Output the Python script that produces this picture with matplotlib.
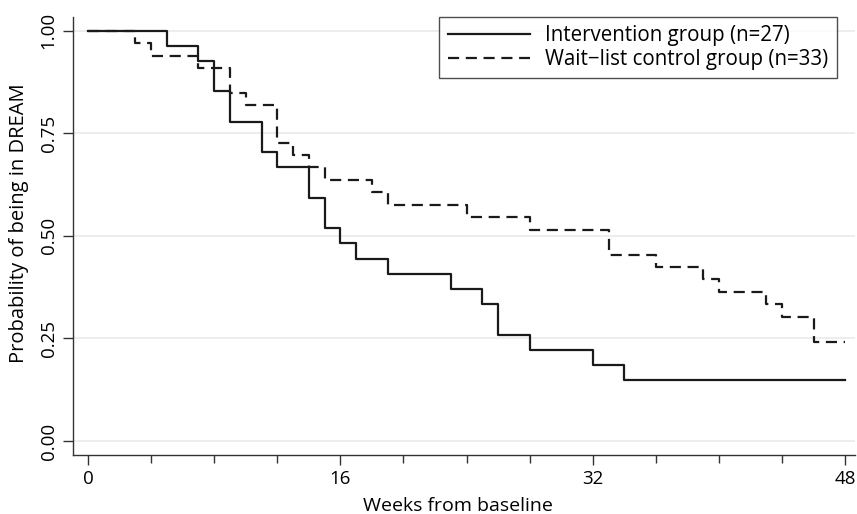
import matplotlib
matplotlib.use('Agg')
import matplotlib.pyplot as plt
from matplotlib.ticker import MultipleLocator

# Kaplan-Meier steps (weeks, number still in DREAM after the drop)
int_weeks = [0, 5, 7, 8, 9, 11, 12, 14, 15, 16, 17, 19, 23, 25, 26, 28, 32, 34, 48]
int_at_risk = [27, 26, 25, 23, 21, 19, 18, 16, 14, 13, 12, 11, 10, 9, 7, 6, 5, 4, 4]
int_n = 27

ctl_weeks = [0, 3, 4, 7, 9, 10, 12, 13, 14, 15, 18, 19, 24, 28, 33, 36, 39, 40, 43, 44, 46, 48]
ctl_at_risk = [33, 32, 31, 30, 28, 27, 24, 23, 22, 21, 20, 19, 18, 17, 15, 14, 13, 12, 11, 10, 8, 8]
ctl_n = 33

y_ticks = [0.0, 0.25, 0.5, 0.75, 1.0]
y_labels = ['0.00', '0.25', '0.50', '0.75', '1.00']
x_ticks = [0, 16, 32, 48]

plt.rcParams['font.family'] = ['Open Sans', 'DejaVu Sans']

fig = plt.figure(figsize=(8.57, 5.14), dpi=100)
ax = fig.add_axes([0.0852, 0.1148, 0.912, 0.8527])

int_surv = [v / int_n for v in int_at_risk]
ctl_surv = [v / ctl_n for v in ctl_at_risk]

ax.step(int_weeks, int_surv, where='post', color='#1a1a1a', lw=1.6,
        label='Intervention group (n=27)')
ax.step(ctl_weeks, ctl_surv, where='post', color='#1a1a1a', lw=1.6,
        dashes=(5.0, 3.0), label='Wait\u2212list control group (n=33)')

ax.set_xlim(-0.95, 48.6)
ax.set_ylim(-0.034, 1.034)
ax.set_yticks(y_ticks)
ax.set_yticklabels(y_labels, rotation=90, va='center')
ax.set_xticks(x_ticks)
ax.xaxis.set_minor_locator(MultipleLocator(4))
ax.tick_params(axis='both', which='major', length=7, width=1, labelsize=13.5,
               color='#333333', pad=4)
ax.tick_params(axis='x', which='minor', length=6, width=1, color='#333333')

for y in y_ticks:
    ax.axhline(y, color='#ececec', lw=1.3, zorder=0)

for s in ['top', 'right']:
    ax.spines[s].set_visible(False)
for s in ['left', 'bottom']:
    ax.spines[s].set_color('#333333')
    ax.spines[s].set_linewidth(1)

ax.set_xlabel('Weeks from baseline', fontsize=14)
ax.set_ylabel('Probability of being in DREAM', fontsize=14.5)
ax.xaxis.set_label_coords(0.492, -0.095)
ax.yaxis.set_label_coords(-0.056, 0.53)

leg = ax.legend(loc='upper right', bbox_to_anchor=(0.977, 1.0), fontsize=14.8,
                handlelength=4.0, frameon=True, fancybox=False, edgecolor='#222222',
                borderpad=0.4, labelspacing=0.15, handletextpad=0.75, borderaxespad=0.0)
leg.get_frame().set_linewidth(1)

plt.savefig('out.png', dpi=100)
